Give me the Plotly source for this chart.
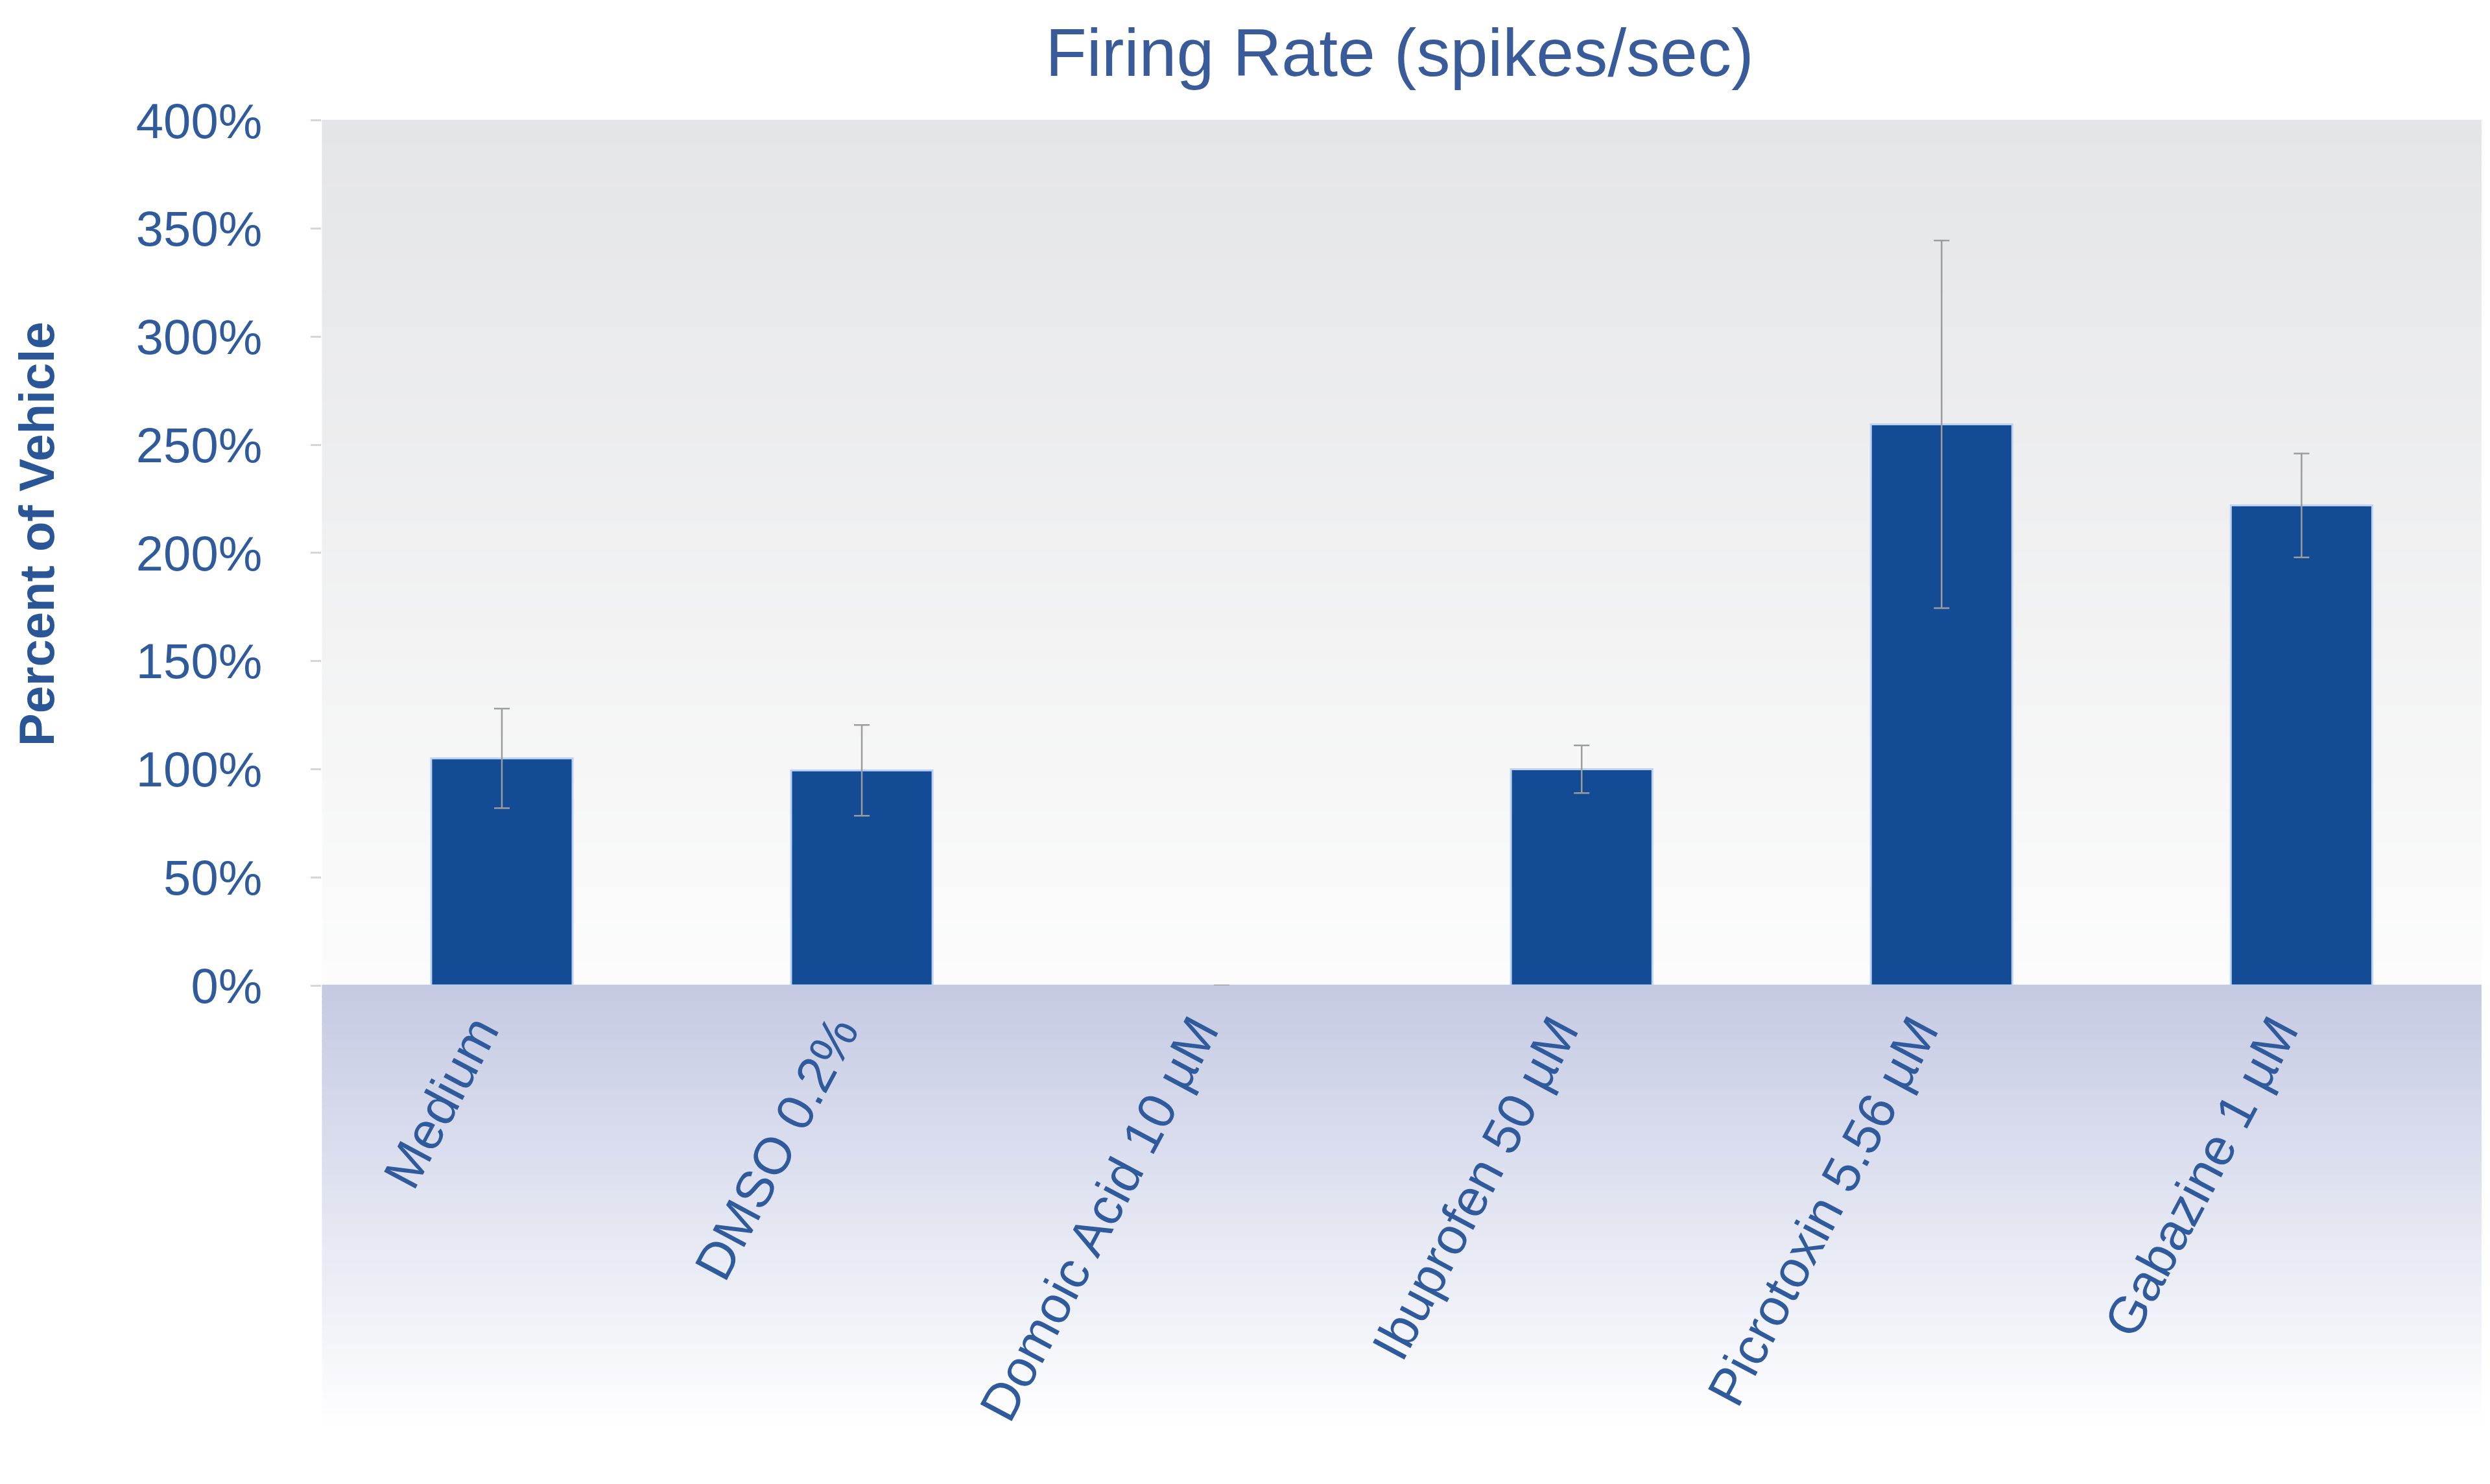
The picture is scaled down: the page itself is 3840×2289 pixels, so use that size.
import plotly.graph_objects as go

# ---- data ----
categories = ["Medium", "DMSO 0.2%", "Domoic Acid 10 µM", "Ibuprofen 50 µM",
              "Picrotoxin 5.56 µM", "Gabazine 1 µM"]
values = [105, 99.5, 0, 100, 259.5, 222]
errors = [23, 21, 0, 11, 85, 24]
y_ticks = [0, 50, 100, 150, 200, 250, 300, 350, 400]
y_tick_labels = ["0%", "50%", "100%", "150%", "200%", "250%", "300%", "350%", "400%"]

W, H = 3840, 2289
X0, X1 = 0.1272, 0.9945
Y0, Y1 = 0.33945, 0.92224
LOW_BOTTOM = 1 - 2200 / H

TEXT_BLUE = "#2f5a9c"

shapes = []
# upper plot-area gradient (light gray at top fading to near white)
n = 80
top_c = (228, 229, 231)
bot_c = (252, 252, 252)
for i in range(n):
    t = i / (n - 1)
    c = tuple(int(round(top_c[k] + (bot_c[k] - top_c[k]) * t)) for k in range(3))
    ya = Y1 - (Y1 - Y0) * i / n
    yb = Y1 - (Y1 - Y0) * (i + 1) / n
    shapes.append(dict(type="rect", xref="paper", yref="paper", x0=X0, x1=X1,
                       y0=yb, y1=ya + 0.0005, fillcolor="rgb(%d,%d,%d)" % c,
                       line=dict(width=0), layer="below"))
# lower category-area gradient (lavender fading to white)
top_c = (197, 202, 227)
bot_c = (255, 255, 255)
for i in range(n):
    t = i / (n - 1)
    c = tuple(int(round(top_c[k] + (bot_c[k] - top_c[k]) * t)) for k in range(3))
    ya = Y0 - (Y0 - LOW_BOTTOM) * i / n
    yb = Y0 - (Y0 - LOW_BOTTOM) * (i + 1) / n
    shapes.append(dict(type="rect", xref="paper", yref="paper", x0=X0, x1=X1,
                       y0=yb, y1=ya + 0.0005, fillcolor="rgb(%d,%d,%d)" % c,
                       line=dict(width=0), layer="below"))

line_widths = [3 if v > 0 else 0 for v in values]

fig = go.Figure()
fig.add_trace(go.Bar(
    x=categories, y=values, width=0.393,
    marker=dict(color="#134b95", line=dict(color="#bcd2f3", width=line_widths)),
    error_y=dict(type="data", array=errors, visible=True,
                 color="#9c9c9c", thickness=2.5, width=12),
    showlegend=False,
))

fig.update_layout(
    width=W, height=H,
    margin=dict(l=0, r=0, t=0, b=0),
    paper_bgcolor="white",
    plot_bgcolor="rgba(0,0,0,0)",
    font=dict(family="Liberation Sans, Arial, sans-serif", color=TEXT_BLUE),
    title=dict(text="Firing Rate (spikes/sec)", x=0.560, y=1 - 73 / H,
               xanchor="center", yanchor="middle",
               font=dict(size=104, color="#3a5b9a")),
    xaxis=dict(domain=[X0, X1], range=[-0.5, 5.5], showgrid=False,
               showline=False, zeroline=False, ticks="", tickangle=-62,
               tickfont=dict(size=80, color=TEXT_BLUE), automargin=False,
               ticklabelstandoff=8, ticklabelshift=-38),
    yaxis=dict(domain=[Y0, Y1], range=[0, 400], tickvals=y_ticks,
               ticktext=y_tick_labels, showgrid=False, showline=False,
               zeroline=False, ticks="outside", ticklen=16, tickcolor="#d6d6d6",
               tickwidth=3, tickfont=dict(size=76, color=TEXT_BLUE),
               automargin=False, ticklabelstandoff=60),
    shapes=shapes,
    annotations=[dict(text="<b>Percent of Vehicle</b>", xref="paper", yref="paper",
                      x=48 / W, y=1 - 816 / H, textangle=-90, showarrow=False,
                      xanchor="center", yanchor="middle",
                      font=dict(size=76, color="#2a5596"))],
    bargap=0.6,
)

fig.write_html("out.html")
